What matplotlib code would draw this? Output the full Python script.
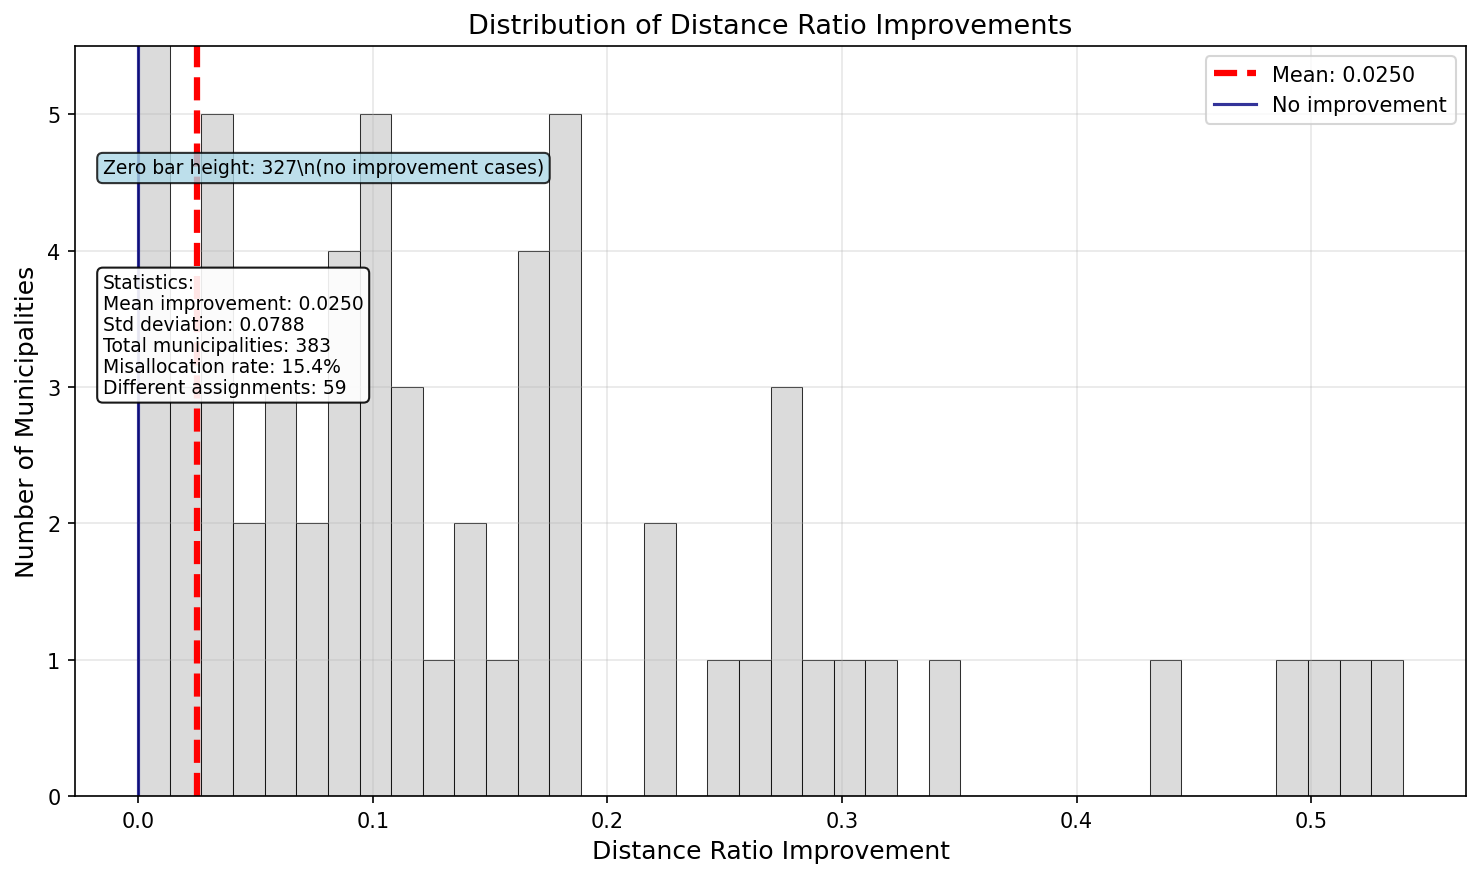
import matplotlib
matplotlib.use("Agg")
import matplotlib.pyplot as plt
import numpy as np

# histogram of distance ratio improvements (40 bins, 0 .. max)
max_improvement = 0.539
bin_counts = [327, 3, 5, 2, 3, 2, 4, 5, 3, 1,
              2, 1, 4, 5, 0, 0, 2, 0, 1, 1,
              3, 1, 1, 1, 0, 1, 0, 0, 0, 0,
              0, 0, 1, 0, 0, 0, 1, 1, 1, 1]

mean_improvement = 0.0250
std_improvement = 0.0788
total_munis = 383
misallocation_rate = 15.4
different_assignments = 59

edges = np.linspace(0, max_improvement, len(bin_counts) + 1)
centers = (edges[:-1] + edges[1:]) / 2

fig = plt.figure(figsize=(1481 / 150, 880 / 150), dpi=150)
ax = fig.add_axes([75 / 1481, 1 - 797 / 880, (1466 - 75) / 1481, (797 - 47) / 880])

ax.hist(centers, bins=edges, weights=bin_counts, color='lightgray',
        alpha=0.8, edgecolor='black', linewidth=0.5)
ax.axvline(mean_improvement, color='red', linestyle='--', linewidth=3,
           label=f'Mean: {mean_improvement:.4f}')
ax.axvline(0, color='navy', linestyle='-', linewidth=1.5, alpha=0.8,
           label='No improvement')

ax.set_ylim(0, 5.5)
ax.set_xlabel('Distance Ratio Improvement', fontsize=12)
ax.set_ylabel('Number of Municipalities', fontsize=12)
ax.set_title('Distribution of Distance Ratio Improvements', fontsize=13)
ax.grid(True, alpha=0.3)
ax.legend(loc='upper right')

ax.text(0.02, 0.85, f'Zero bar height: {bin_counts[0]}\\n(no improvement cases)',
        transform=ax.transAxes, fontsize=9, va='top',
        bbox=dict(boxstyle='round', facecolor='lightblue', alpha=0.8))

stats = (f'Statistics:\n'
         f'Mean improvement: {mean_improvement:.4f}\n'
         f'Std deviation: {std_improvement:.4f}\n'
         f'Total municipalities: {total_munis}\n'
         f'Misallocation rate: {misallocation_rate:.1f}%\n'
         f'Different assignments: {different_assignments}')
ax.text(0.02, 0.697, stats, transform=ax.transAxes, fontsize=9, va='top',
        linespacing=1.13,
        bbox=dict(boxstyle='round', facecolor='white', alpha=0.9))

fig.savefig('out.png', dpi=150)
